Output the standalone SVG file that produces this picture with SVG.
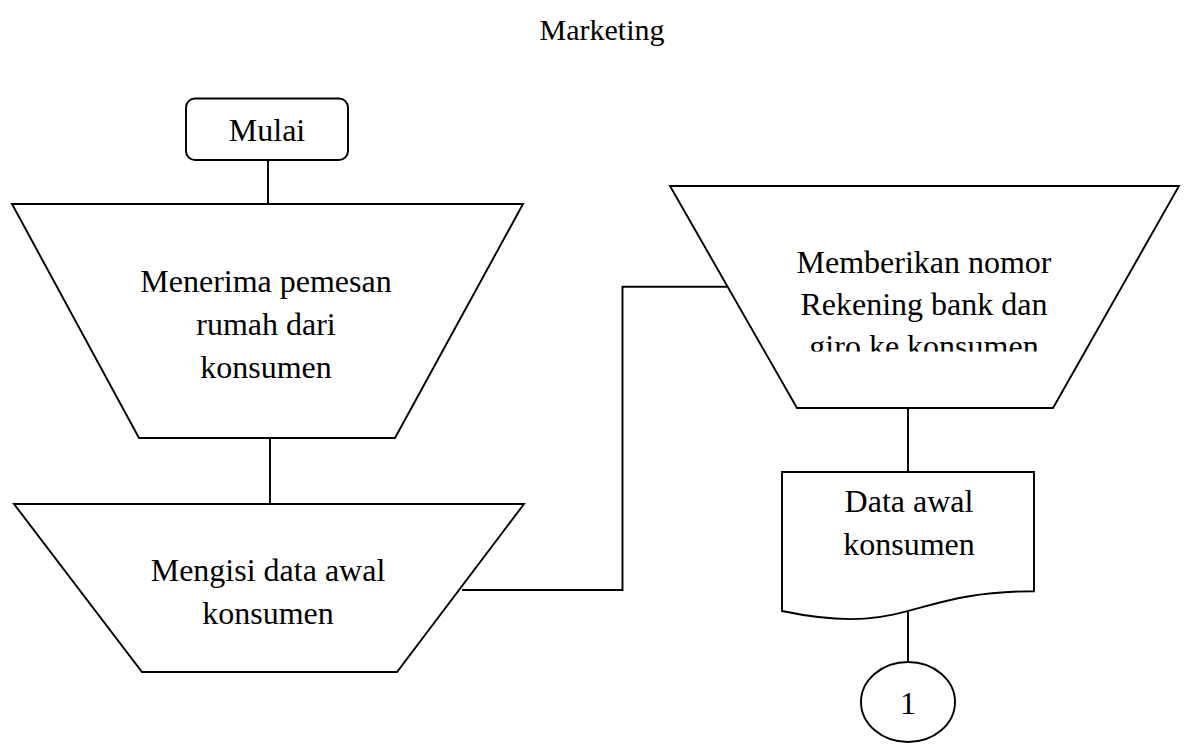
<svg xmlns="http://www.w3.org/2000/svg" width="1186" height="744" viewBox="0 0 1186 744">
  <defs>
    <style>
      .shape { fill: #ffffff; stroke: #000000; stroke-width: 1.9; stroke-linejoin: miter; }
      .conn { fill: none; stroke: #000000; stroke-width: 1.9; }
      .lbl { font-family: "Liberation Serif", "Times New Roman", serif; font-size: 32px; fill: #000000; text-anchor: middle; }
      .title { font-size: 30px; }
    </style>
    <clipPath id="clipTrap3">
      <rect x="670" y="186" width="510" height="165.5"/>
    </clipPath>
  </defs>
  <rect x="0" y="0" width="1186" height="744" fill="#ffffff"/>

  <g id="title">
    <text class="lbl title" x="602" y="40">Marketing</text>
  </g>

  <g id="connectors">
    <line class="conn" x1="268" y1="160" x2="268" y2="204"/>
    <line class="conn" x1="270" y1="438" x2="270" y2="504"/>
    <polyline class="conn" points="462,590 622.5,590 622.5,286.7 727.6,286.7"/>
    <line class="conn" x1="908" y1="408" x2="908" y2="472"/>
    <line class="conn" x1="908" y1="612" x2="908" y2="662"/>
  </g>

  <g id="mulai">
    <rect class="shape" x="186" y="98.5" width="162" height="61.5" rx="9" ry="9"/>
    <text class="lbl" x="267" y="141">Mulai</text>
  </g>

  <g id="menerima">
    <polygon class="shape" points="12,204 523,204 395,438 139,438"/>
    <text class="lbl" x="266" y="292">Menerima pemesan</text>
    <text class="lbl" x="266" y="335">rumah dari</text>
    <text class="lbl" x="266" y="378">konsumen</text>
  </g>

  <g id="mengisi">
    <polygon class="shape" points="14,504 524,504 397,672 142,672"/>
    <text class="lbl" x="268" y="581">Mengisi data awal</text>
    <text class="lbl" x="268" y="624">konsumen</text>
  </g>

  <g id="memberikan">
    <polygon class="shape" points="670,186 1179,186 1053,408 797,408"/>
    <g clip-path="url(#clipTrap3)">
      <text class="lbl" x="924" y="273">Memberikan nomor</text>
      <text class="lbl" x="924" y="315">Rekening bank dan</text>
      <text class="lbl" x="924" y="357">giro ke konsumen</text>
    </g>
  </g>

  <g id="dokumen">
    <path class="shape" d="M782,472 L1034,472 L1034,591.3 C908,591.3 908,637.3 782,611 Z"/>
    <text class="lbl" x="909" y="512">Data awal</text>
    <text class="lbl" x="909" y="555">konsumen</text>
  </g>

  <g id="konektor1">
    <ellipse class="shape" cx="908" cy="702" rx="47" ry="40"/>
    <text class="lbl" x="908" y="714">1</text>
  </g>
</svg>
